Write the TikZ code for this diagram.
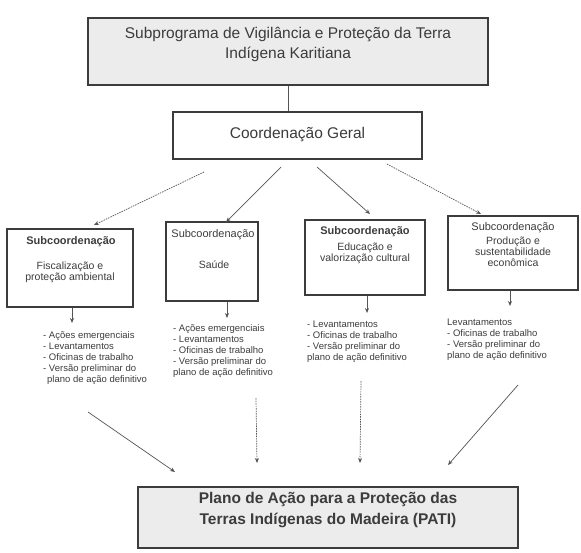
\documentclass[tikz,border=0pt]{standalone}
\usepackage{fontspec}
\setmainfont{Liberation Sans}
\usepackage{xcolor}
\usetikzlibrary{arrows.meta}
\definecolor{inkgray}{RGB}{60,60,60}
\definecolor{linegray}{RGB}{85,85,85}
\definecolor{paperfill}{RGB}{236,236,236}

\begin{document}
\begin{tikzpicture}[x=1pt, y=-1pt,
    frame/.style={draw=inkgray, line width=1.1pt, inner sep=0pt},
    shadedframe/.style={frame, fill=paperfill},
    titletext/.style={font=\fontsize{15.5}{20}\selectfont, text=inkgray, align=center},
    headtext/.style={font=\fontsize{11}{12}\selectfont\bfseries, text=inkgray},
    lightheadtext/.style={font=\fontsize{11}{12}\selectfont, text=inkgray},
    topictext/.style={font=\fontsize{10.5}{11}\selectfont, text=inkgray, align=center},
    listtext/.style={font=\fontsize{9.5}{11}\selectfont, text=inkgray, align=left,
                     anchor=north west, inner sep=0pt},
    link/.style={-{Stealth[length=5pt, width=4pt]}, draw=linegray, line width=0.7pt},
    dotlink/.style={link, dash pattern=on 1.5pt off 1pt}
]
\useasboundingbox (0,0) rectangle (581,552);

% Top: subprogram
\node[shadedframe, minimum width=400, minimum height=67] (topbox) at (288,51.5) {};
\node[titletext] (toptitle) at (288,44)
  {Subprograma de Vigilância e Proteção da Terra\\Indígena Karitiana};

% General coordination
\node[frame, fill=white, minimum width=249, minimum height=47,
      font=\fontsize{15.5}{18}\selectfont, text=inkgray] (coord) at (297.5,135.5)
  {\raisebox{5pt}{Coordenação Geral}};
\draw[draw=linegray, line width=0.5pt] (topbox.south) -- (topbox.south |- coord.north);

% Sub-coordinations
\node[frame, minimum width=126, minimum height=78] (sub1) at (70,268) {};
\node[headtext] (sub1h) at (71,242) {Subcoordenação};
\node[topictext] (sub1t) at (70,272) {Fiscalização e\\proteção ambiental};

\node[frame, minimum width=92, minimum height=79] (sub2) at (212,261.5) {};
\node[lightheadtext] (sub2h) at (213,235) {Subcoordenação};
\node[topictext] (sub2t) at (214,265) {Saúde};

\node[frame, minimum width=120, minimum height=75] (sub3) at (365,257.5) {};
\node[headtext] (sub3h) at (365,232) {Subcoordenação};
\node[topictext] (sub3t) at (365,253) {Educação e\\valorização cultural};

\node[frame, minimum width=130, minimum height=74] (sub4) at (513,253) {};
\node[lightheadtext] (sub4h) at (513,228) {Subcoordenação};
\node[topictext] (sub4t) at (513,252) {Produção e\\sustentabilidade\\econômica};

% Arrows from the general coordination
\coordinate (c1s) at (204,172);  \coordinate (c1e) at (94,225);
\coordinate (c2s) at (281,167);  \coordinate (c2e) at (226,222);
\coordinate (c3s) at (317,167);  \coordinate (c3e) at (370,214);
\coordinate (c4s) at (387,164);  \coordinate (c4e) at (481,214);
\draw[dotlink] (c1s) -- (c1e);
\draw[link] (c2s) -- (c2e);
\draw[link] (c3s) -- (c3e);
\draw[dotlink] (c4s) -- (c4e);

% Activity lists
\node[listtext] (list1) at (43,331)
  {- Ações emergenciais\\- Levantamentos\\- Oficinas de trabalho\\- Versão preliminar do\\\hspace*{4pt}plano de ação definitivo};
\node[listtext] (list2) at (173,324)
  {- Ações emergenciais\\- Levantamentos\\- Oficinas de trabalho\\- Versão preliminar do\\plano de ação definitivo};
\node[listtext] (list3) at (307,321)
  {- Levantamentos\\- Oficinas de trabalho\\- Versão preliminar do\\plano de ação definitivo};
\node[listtext] (list4) at (447,319)
  {Levantamentos\\- Oficinas de trabalho\\- Versão preliminar do\\plano de ação definitivo};

\draw[link, shorten >=8pt] ([xshift=2pt]sub1.south) -- ([xshift=2pt]sub1.south |- list1.north);
\draw[link, shorten >=6pt] ([xshift=15pt]sub2.south) -- ([xshift=15pt]sub2.south |- list2.north);
\draw[link, shorten >=8pt] ([xshift=2pt]sub3.south) -- ([xshift=2pt]sub3.south |- list3.north);
\draw[link, shorten >=13pt] ([xshift=-3pt]sub4.south) -- ([xshift=-3pt]sub4.south |- list4.north);

% Final plan
\node[shadedframe, minimum width=380, minimum height=61] (pati) at (328,517.5) {};
\node[titletext, font=\fontsize{15.5}{21}\selectfont\bfseries] (patitext) at (328,510)
  {Plano de Ação para a Proteção das\\Terras Indígenas do Madeira (PATI)};

\coordinate (p1s) at (88,412);   \coordinate (p1e) at (175,472);
\coordinate (p2s) at (256,398);  \coordinate (p2e) at (257,463);
\coordinate (p3s) at (361,381);  \coordinate (p3e) at (360,463);
\coordinate (p4s) at (518,385);  \coordinate (p4e) at (448,465);
\draw[link] (p1s) -- (p1e);
\draw[dotlink] (p2s) -- (p2e);
\draw[dotlink] (p3s) -- (p3e);
\draw[link] (p4s) -- (p4e);

\end{tikzpicture}
\end{document}
